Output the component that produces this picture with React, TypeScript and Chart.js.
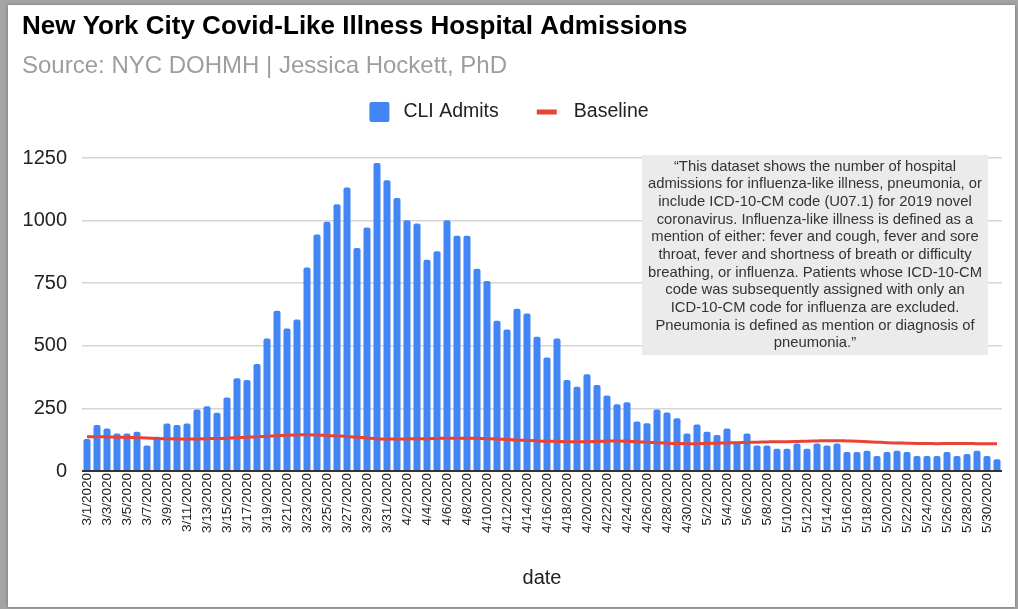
import React, { useEffect, useRef } from 'react';
import { Chart, registerables } from 'chart.js';

Chart.register(...registerables);

const DATES = [
  '3/1/2020', '3/2/2020', '3/3/2020', '3/4/2020', '3/5/2020', '3/6/2020', '3/7/2020', '3/8/2020', '3/9/2020', '3/10/2020',
  '3/11/2020', '3/12/2020', '3/13/2020', '3/14/2020', '3/15/2020', '3/16/2020', '3/17/2020', '3/18/2020', '3/19/2020', '3/20/2020',
  '3/21/2020', '3/22/2020', '3/23/2020', '3/24/2020', '3/25/2020', '3/26/2020', '3/27/2020', '3/28/2020', '3/29/2020', '3/30/2020', '3/31/2020',
  '4/1/2020', '4/2/2020', '4/3/2020', '4/4/2020', '4/5/2020', '4/6/2020', '4/7/2020', '4/8/2020', '4/9/2020', '4/10/2020',
  '4/11/2020', '4/12/2020', '4/13/2020', '4/14/2020', '4/15/2020', '4/16/2020', '4/17/2020', '4/18/2020', '4/19/2020', '4/20/2020',
  '4/21/2020', '4/22/2020', '4/23/2020', '4/24/2020', '4/25/2020', '4/26/2020', '4/27/2020', '4/28/2020', '4/29/2020', '4/30/2020',
  '5/1/2020', '5/2/2020', '5/3/2020', '5/4/2020', '5/5/2020', '5/6/2020', '5/7/2020', '5/8/2020', '5/9/2020', '5/10/2020',
  '5/11/2020', '5/12/2020', '5/13/2020', '5/14/2020', '5/15/2020', '5/16/2020', '5/17/2020', '5/18/2020', '5/19/2020', '5/20/2020',
  '5/21/2020', '5/22/2020', '5/23/2020', '5/24/2020', '5/25/2020', '5/26/2020', '5/27/2020', '5/28/2020', '5/29/2020', '5/30/2020', '5/31/2020',
];

const CLI_ADMITS = [
  128, 184, 170, 150, 150, 157, 102, 137, 190, 184,
  190, 246, 259, 233, 294, 370, 363, 427, 529, 640,
  569, 605, 813, 944, 995, 1065, 1132, 891, 972, 1230, 1161,
  1090, 1001, 988, 844, 878, 1001, 939, 939, 808, 759,
  600, 565, 648, 629, 536, 453, 529, 363, 336, 386,
  343, 302, 267, 275, 198, 191, 246, 234, 211, 150,
  186, 157, 144, 170, 116, 150, 102, 102, 89, 89,
  110, 89, 110, 102, 110, 76, 76, 81, 60, 76,
  81, 76, 60, 60, 60, 76, 60, 68, 81, 60, 47,
];

const BASELINE = [
  137, 137, 136, 135, 134, 133, 132, 130, 129, 128,
  128, 128, 129, 130, 131, 133, 135, 137, 139, 141,
  143, 144, 145, 144, 142, 140, 138, 135, 132, 129, 128,
  128, 128, 129, 129, 130, 131, 131, 131, 130, 129,
  128, 126, 124, 122, 120, 119, 118, 117, 117, 117,
  118, 119, 120, 119, 117, 115, 113, 111, 110, 109,
  109, 110, 111, 112, 113, 114, 115, 116, 117, 117,
  118, 119, 120, 121, 121, 120, 119, 117, 115, 113,
  112, 111, 110, 110, 109, 110, 110, 110, 109, 109, 109,
];

const Y_TICKS = [0, 250, 500, 750, 1000, 1250];
const SERIES_NAMES = ['CLI Admits', 'Baseline'];
const TITLE = 'New York City Covid-Like Illness Hospital Admissions';
const SUBTITLE = 'Source: NYC DOHMH | Jessica Hockett, PhD';
const X_TITLE = 'date';
const NOTE_LINES = [
  '\u201CThis dataset shows the number of hospital',
  'admissions for influenza-like illness, pneumonia, or',
  'include ICD-10-CM code (U07.1) for 2019 novel',
  'coronavirus. Influenza-like illness is defined as a',
  'mention of either: fever and cough, fever and sore',
  'throat, fever and shortness of breath or difficulty',
  'breathing, or influenza. Patients whose ICD-10-CM',
  'code was subsequently assigned with only an',
  'ICD-10-CM code for influenza are excluded.',
  'Pneumonia is defined as mention or diagnosis of',
  'pneumonia.\u201D',
];

const FONT = '"Liberation Sans", Arial, Helvetica, sans-serif';
const BAR_COLOR = '#4285F4';
const LINE_COLOR = '#EA4335';

const legendPlugin = {
  id: 'sheetLegend',
  afterDraw(chart: any) {
    const ctx = chart.ctx;
    const names = chart.data.datasets.map((d: any) => d.label);
    const barName = names[1];
    const lineName = names[0];
    ctx.save();
    ctx.font = `19.5px ${FONT}`;
    ctx.textBaseline = 'middle';
    ctx.textAlign = 'left';
    const w1 = ctx.measureText(barName).width;
    const w2 = ctx.measureText(lineName).width;
    const total = 20 + 14 + w1 + 38 + 20 + 17 + w2;
    let x = chart.width / 2 - total / 2;
    const cy = 112;
    ctx.fillStyle = BAR_COLOR;
    ctx.beginPath();
    ctx.roundRect ? ctx.roundRect(x, cy - 10, 20, 20, 2) : ctx.rect(x, cy - 10, 20, 20);
    ctx.fill();
    x += 34;
    ctx.fillStyle = '#222';
    ctx.fillText(barName, x, cy);
    x += w1 + 38;
    ctx.fillStyle = LINE_COLOR;
    ctx.fillRect(x, cy - 2.5, 20, 5);
    x += 37;
    ctx.fillStyle = '#222';
    ctx.fillText(lineName, x, cy);
    ctx.restore();
  },
};

const notePlugin = {
  id: 'noteBox',
  afterDatasetsDraw(chart: any) {
    const { ctx, chartArea } = chart;
    const left = chartArea.left + 560;
    const right = chartArea.right - 14;
    const top = chartArea.top - 3;
    const height = 200;
    ctx.save();
    ctx.fillStyle = '#ebebeb';
    ctx.fillRect(left, top, right - left, height);
    ctx.font = `14.8px ${FONT}`;
    ctx.fillStyle = '#333';
    ctx.textAlign = 'center';
    ctx.textBaseline = 'middle';
    NOTE_LINES.forEach((line, i) => {
      ctx.fillText(line, (left + right) / 2, top + 11.7 + i * 17.67);
    });
    ctx.restore();
  },
};

export default function App() {
  const canvasRef = useRef<HTMLCanvasElement | null>(null);

  useEffect(() => {
    if (!canvasRef.current) return;
    const chart = new Chart(canvasRef.current, {
      type: 'bar',
      data: {
        labels: DATES,
        datasets: [
          {
            type: 'line',
            label: SERIES_NAMES[1],
            data: BASELINE,
            borderColor: LINE_COLOR,
            backgroundColor: LINE_COLOR,
            borderWidth: 3,
            pointRadius: 0,
            tension: 0.3,
            order: 0,
          } as any,
          {
            type: 'bar',
            label: SERIES_NAMES[0],
            data: CLI_ADMITS,
            backgroundColor: BAR_COLOR,
            borderWidth: 0,
            barPercentage: 0.7,
            categoryPercentage: 1,
            borderRadius: 2,
            order: 1,
          } as any,
        ],
      },
      options: {
        responsive: false,
        animation: false,
        layout: { padding: { left: 22, right: 16, top: 0, bottom: 19 } },
        plugins: {
          legend: { display: false },
          tooltip: { enabled: false },
          title: {
            display: true,
            text: TITLE,
            align: 'start',
            color: '#000',
            font: { family: FONT, size: 26, weight: 'bold' },
            padding: { top: 11, bottom: 10 },
          },
          subtitle: {
            display: true,
            text: SUBTITLE,
            align: 'start',
            color: '#9e9e9e',
            font: { family: FONT, size: 24 },
            padding: { top: 0, bottom: 77 },
          },
        },
        scales: {
          x: {
            grid: { display: false, drawTicks: false },
            border: { display: false },
            ticks: {
              autoSkip: false,
              minRotation: 90,
              maxRotation: 90,
              padding: 2,
              color: '#222',
              font: { family: FONT, size: 13.5 },
              callback: (_v: any, index: number) => (index % 2 === 0 ? DATES[index] : ''),
            },
            title: {
              display: true,
              text: X_TITLE,
              color: '#222',
              font: { family: FONT, size: 20 },
              padding: { top: 0, bottom: 0 },
            },
            afterFit: (scale: any) => {
              scale.height = 119;
            },
          },
          y: {
            min: 0,
            max: 1250,
            border: { display: false },
            grid: {
              drawTicks: false,
              color: (c: any) => (c.tick && c.tick.value === 0 ? '#333' : '#d6d6d6'),
              lineWidth: (c: any) => (c.tick && c.tick.value === 0 ? 2 : 1.5),
            },
            afterBuildTicks: (scale: any) => {
              scale.ticks = Y_TICKS.map((v) => ({ value: v }));
            },
            ticks: {
              padding: 15,
              color: '#222',
              font: { family: FONT, size: 20 },
              callback: (v: any) => String(v),
            },
            afterFit: (scale: any) => {
              scale.width = 60;
            },
          },
        },
      },
      plugins: [notePlugin, legendPlugin],
    });
    return () => chart.destroy();
  }, []);

  return (
    <div style={{ position: 'fixed', left: 0, top: 0, width: 1018, height: 609, background: '#a4a4a4', overflow: 'hidden' }}>
      <div
        style={{
          position: 'absolute',
          left: 8,
          top: 5,
          width: 1007,
          height: 602,
          background: '#ffffff',
          boxShadow: '0 0 3px rgba(0,0,0,0.35)',
        }}
      />
      <canvas ref={canvasRef} width={1018} height={609} style={{ position: 'absolute', left: 0, top: 0 }} />
    </div>
  );
}
